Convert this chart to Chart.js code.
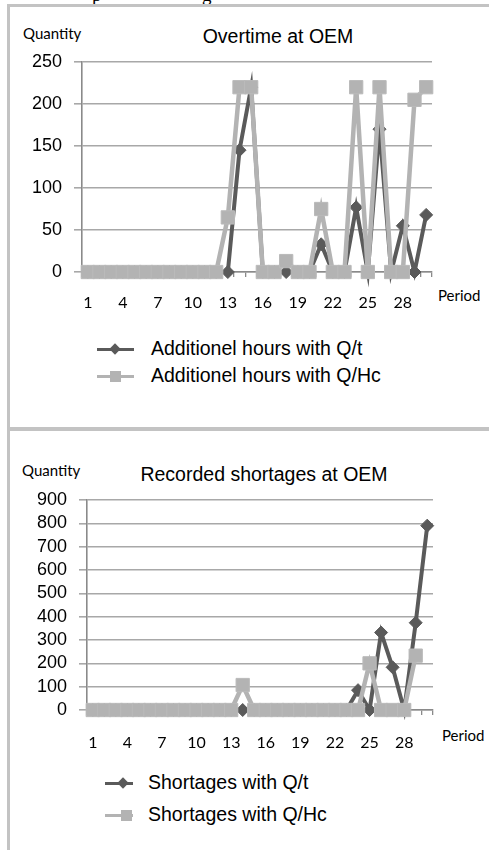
<!DOCTYPE html>
<html>
<head>
<meta charset="utf-8">
<script src="https://cdn.jsdelivr.net/npm/chart.js@4.4.0/dist/chart.umd.min.js"></script>
<style>
  body { margin: 0; width: 489px; height: 850px; overflow: hidden; background: #fff; position: relative;
         font-family: "Liberation Sans", Arial, sans-serif; color: #000; }
  .frame { position: absolute; left: 7px; width: 600px; border-left: 3px solid #c3c3c3; }
  .abs { position: absolute; white-space: nowrap; line-height: 1; }
  .cal { font-family: Lato, sans-serif; font-size: 15px; }
  .title { font-size: 19.5px; transform: translateX(-50%); }
  .leg { font-size: 19.5px; }
  .box { position: absolute; left: 0; width: 489px; }
  .serif { font-family: "Liberation Serif", serif; font-size: 19px; }
</style>
</head>
<body>
<div class="abs serif" style="left:92px;top:-15px">p</div>
<div class="abs serif" style="left:202px;top:-15px">g</div>

<div class="frame" style="top:4px;height:420px;border-top:3px solid #c3c3c3"></div>
<div class="frame" style="top:427px;height:440px;border-top:4px solid #c3c3c3"></div>

<div class="abs cal" style="left:23px;top:25.5px">Quantity</div>
<div class="abs title" style="left:278px;top:27px">Overtime at OEM</div>
<div class="abs cal" style="left:438px;top:288px">Period</div>
<div class="box" style="top:0;height:330px"><canvas id="overtime"></canvas></div>

<div class="abs cal" style="left:22px;top:462.5px">Quantity</div>
<div class="abs title" style="left:264px;top:465px">Recorded shortages at OEM</div>
<div class="abs cal" style="left:442px;top:728px">Period</div>
<div class="box" style="top:430px;height:330px"><canvas id="shortages"></canvas></div>

<script>
"use strict";

// ---------- data ----------
const periods = ["1", "2", "3", "4", "5", "6", "7", "8", "9", "10",
  "11", "12", "13", "14", "15", "16", "17", "18", "19", "20",
  "21", "22", "23", "24", "25", "26", "27", "28", "29", "30"];
const periodTicks = ["1", "4", "7", "10", "13", "16", "19", "22", "25", "28"];

const overtimeQt  = [0, 0, 0, 0, 0, 0, 0, 0, 0, 0, 0, 0, 0, 145, 220, 0, 0, 0, 0, 0, 33, 0, 0, 77, 0, 170, 0, 55, 0, 68];
const overtimeQHc = [0, 0, 0, 0, 0, 0, 0, 0, 0, 0, 0, 0, 65, 220, 220, 0, 0, 13, 0, 0, 75, 0, 0, 220, 0, 220, 0, 0, 205, 220];
const overtimeTicks = [0, 50, 100, 150, 200, 250];

const shortQt  = [0, 0, 0, 0, 0, 0, 0, 0, 0, 0, 0, 0, 0, 0, 0, 0, 0, 0, 0, 0, 0, 0, 0, 85, 0, 332, 183, 0, 374, 790];
const shortQHc = [0, 0, 0, 0, 0, 0, 0, 0, 0, 0, 0, 0, 0, 107, 0, 0, 0, 0, 0, 0, 0, 0, 0, 0, 200, 0, 0, 0, 233, null];
const shortTicks = [0, 100, 200, 300, 400, 500, 600, 700, 800, 900];

const DARK = "#5a5a5a";
const LIGHT = "#b3b3b3";
const GRID = "#a8a8a8";
const AXIS = "#8a8a8a";

function darkSet(label, data) {
  return {
    label, data, order: 1, clip: false,
    borderColor: DARK, borderWidth: 4, tension: 0,
    pointStyle: "rectRot", pointRadius: 6.5, pointHoverRadius: 6.5,
    pointBackgroundColor: DARK, pointBorderColor: DARK, pointBorderWidth: 1,
  };
}
function lightSet(label, data) {
  return {
    label, data, order: 0, clip: false,
    borderColor: LIGHT, borderWidth: 4.5, tension: 0,
    pointStyle: "rect", pointRadius: 9.4, pointHoverRadius: 9.4,
    pointBackgroundColor: LIGHT, pointBorderColor: "#bababa", pointBorderWidth: 1,
  };
}

function makeChart(id, sets, yTicks, box) {
  return new Chart(document.getElementById(id), {
    type: "line",
    data: { labels: periods, datasets: sets },
    options: {
      responsive: true,
      maintainAspectRatio: false,
      animation: false,
      layout: { padding: { left: 0, top: box.top, right: box.right, bottom: box.bottom } },
      plugins: { legend: { display: false }, tooltip: { enabled: false } },
      scales: {
        x: {
          offset: true,
          grid: { display: true, drawOnChartArea: false, offset: true, tickLength: 5, color: AXIS, lineWidth: 1.3 },
          border: { display: true, color: AXIS, width: 1.5 },
          ticks: {
            autoSkip: false, maxRotation: 0, padding: box.xPad, color: "#000",
            font: { family: "Lato", size: 16 },
            callback: function (v, i) {
              const lab = periods[i];
              return periodTicks.includes(lab) ? lab : "";
            },
          },
          afterFit: (s) => { s.height = box.xh; },
        },
        y: {
          min: yTicks[0], max: yTicks[yTicks.length - 1],
          afterBuildTicks: (s) => { s.ticks = yTicks.map((v) => ({ value: v })); },
          grid: { color: GRID, lineWidth: 1.6, tickLength: 8 },
          border: { display: true, color: AXIS, width: 1.6 },
          ticks: { autoSkip: false, padding: 12, color: "#000", font: { family: "Liberation Sans", size: 18 } },
          afterFit: (s) => { s.width = box.yw; },
        },
      },
    },
  });
}

// legend rows in the page (Excel style: line with marker in the middle)
function addLegend(chart, rows) {
  chart.data.datasets.forEach((ds, i) => {
    const r = rows[i];
    const line = document.createElement("div");
    line.style.cssText = `position:absolute;left:${r.x}px;top:${r.y - 1.5}px;width:${r.w}px;height:3px;background:${ds.borderColor}`;
    document.body.appendChild(line);
    const mk = document.createElement("div");
    if (ds.pointStyle === "rectRot") {
      mk.style.cssText = `position:absolute;left:${r.mx - 4}px;top:${r.y - 4}px;width:8px;height:8px;background:${ds.borderColor};transform:rotate(45deg)`;
    } else {
      mk.style.cssText = `position:absolute;left:${r.mx - 5.5}px;top:${r.y - 5.5}px;width:11px;height:11px;background:${ds.borderColor}`;
    }
    document.body.appendChild(mk);
    const t = document.createElement("div");
    t.className = "abs leg";
    t.style.left = r.tx + "px";
    t.style.top = (r.y - 10) + "px";
    t.textContent = ds.label;
    document.body.appendChild(t);
  });
}

const c1 = makeChart("overtime",
  [darkSet("Additionel hours with Q/t", overtimeQt), lightSet("Additionel hours with Q/Hc", overtimeQHc)],
  overtimeTicks,
  { top: 62, right: 57, bottom: 8, xh: 50, yw: 82, xPad: 16 });

const c2 = makeChart("shortages",
  [darkSet("Shortages with Q/t", shortQt), lightSet("Shortages with Q/Hc", shortQHc)],
  shortTicks,
  { top: 70, right: 56, bottom: 0, xh: 50, yw: 87, xPad: 18 });

addLegend(c1, [
  { x: 97, w: 37, mx: 115, y: 349, tx: 151 },
  { x: 97, w: 37, mx: 115, y: 376, tx: 151 },
]);
addLegend(c2, [
  { x: 105, w: 28, mx: 123, y: 783, tx: 148 },
  { x: 105, w: 28, mx: 126, y: 815, tx: 148 },
]);
</script>
</body>
</html>
